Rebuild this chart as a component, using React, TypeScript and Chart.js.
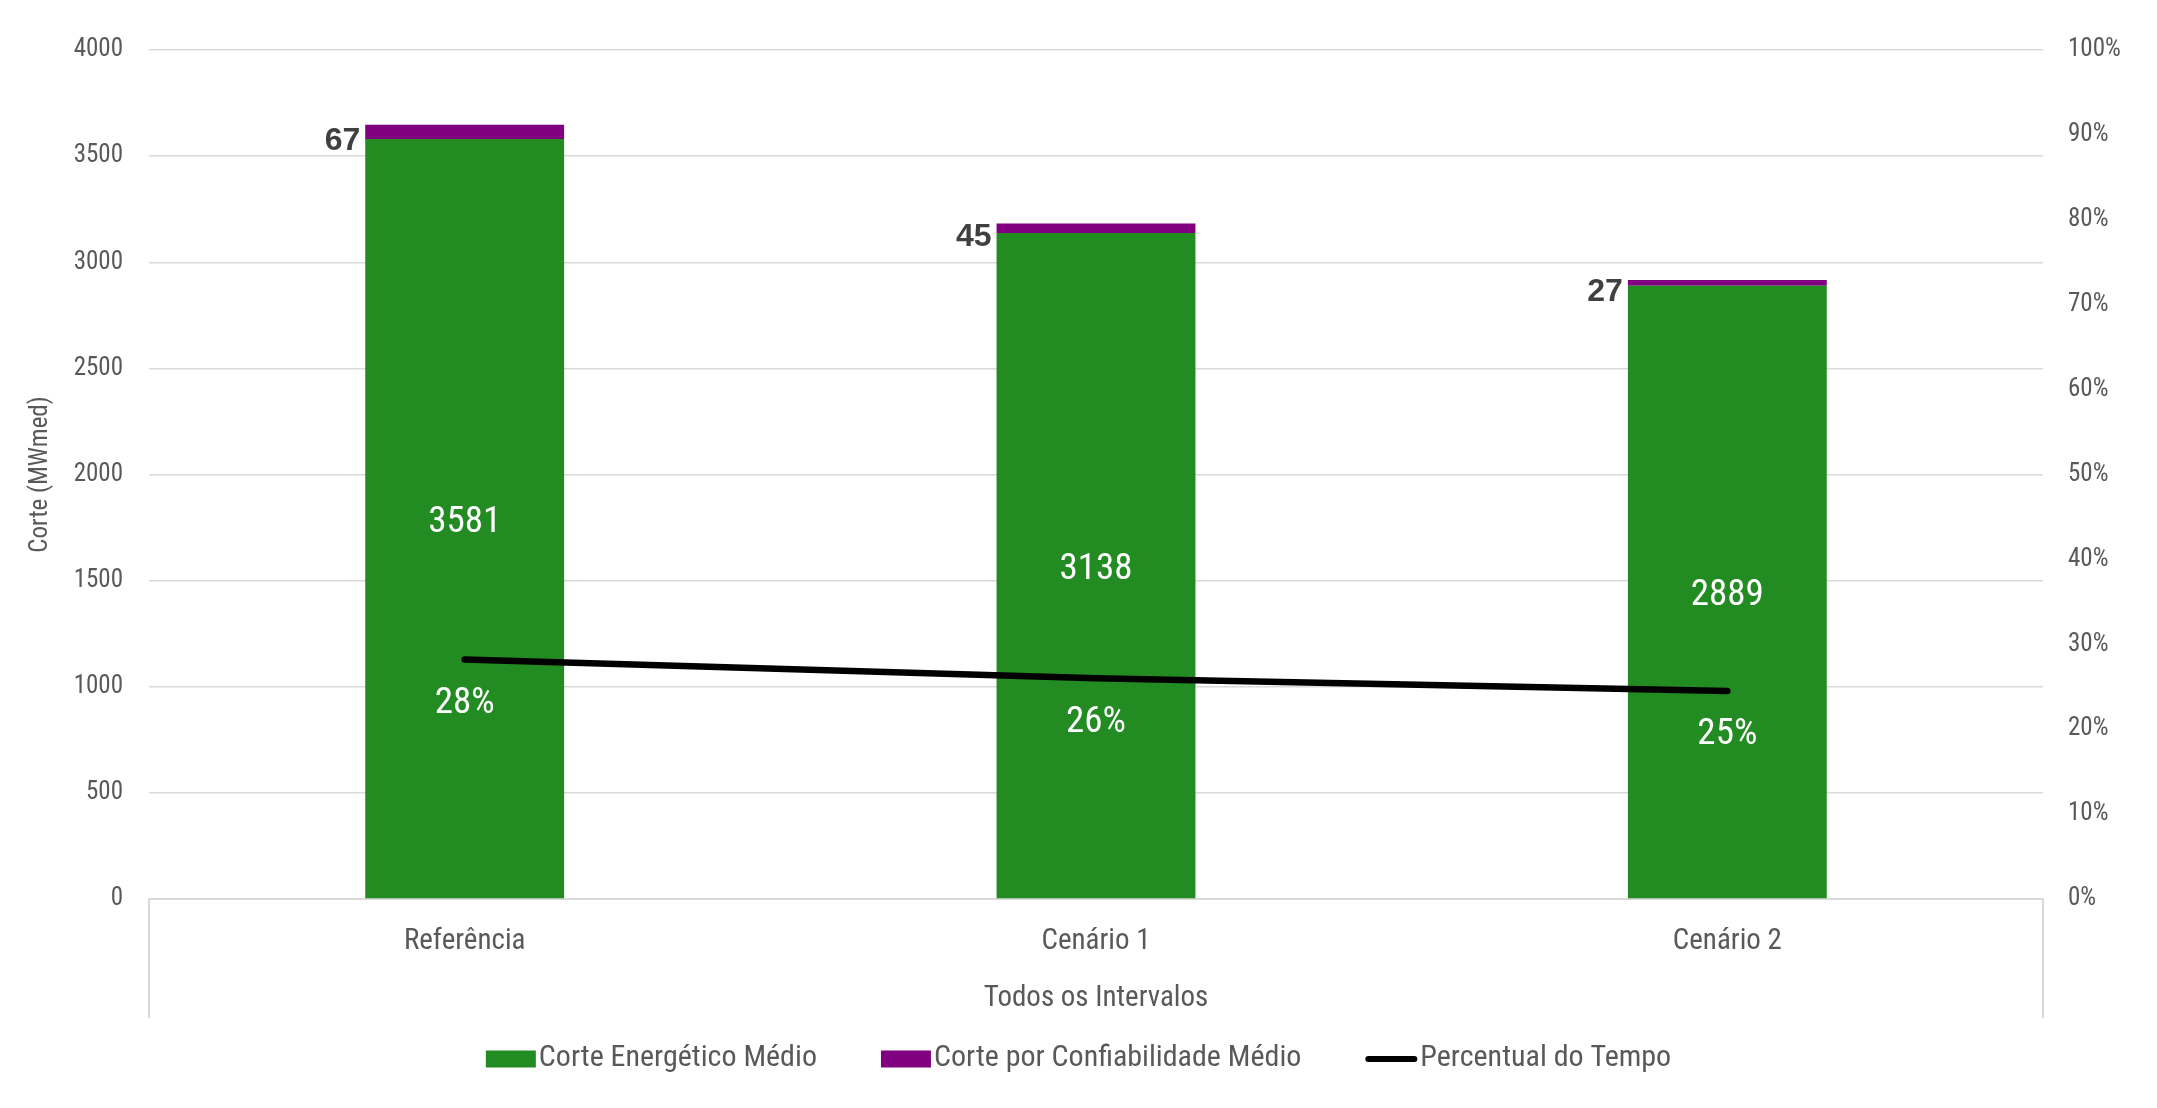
import React, { useEffect, useRef } from "react";
import { Chart, registerables } from "chart.js";

Chart.register(...registerables);

const categories = ["Referência", "Cenário 1", "Cenário 2"];
const corteEnergetico = [3581, 3138, 2889];
const corteConfiabilidade = [67, 45, 27];
const percentualTempo = [28.2, 26.0, 24.5];
const seriesNames = ["Corte Energético Médio", "Corte por Confiabilidade Médio", "Percentual do Tempo"];
const leftAxisTitle = "Corte (MWmed)";
const xAxisTitle = "Todos os Intervalos";

const GREEN = "#228B22";
const PURPLE = "#800080";
const BLACK = "#000000";
const GRID = "#d9d9d9";
const TEXT = "#595959";
const COND = "'Liberation Sans Narrow', 'Roboto Condensed', 'DejaVu Sans Condensed', 'Noto Sans', sans-serif";
const BOLDF = "'Liberation Sans Narrow', 'Liberation Sans', 'Roboto', sans-serif";

const labelsPlugin = {
  id: "customLabels",
  afterDatasetsDraw(chart: any) {
    const ctx = chart.ctx;
    ctx.save();
    ctx.textAlign = "center";
    ctx.textBaseline = "middle";
    const m0 = chart.getDatasetMeta(0);
    m0.data.forEach((bar: any, i: number) => {
      const p = bar.getProps(["x", "y", "base"], true);
      ctx.font = `37px ${COND}`;
      ctx.fillStyle = "#ffffff";
      ctx.fillText(String(corteEnergetico[i]), p.x, (p.y + p.base) / 2 + 4);
    });
    const m1 = chart.getDatasetMeta(1);
    m1.data.forEach((bar: any, i: number) => {
      const p = bar.getProps(["x", "y", "base", "width"], true);
      ctx.font = `bold 32px ${BOLDF}`;
      ctx.fillStyle = "#404040";
      ctx.textAlign = "right";
      ctx.fillText(String(corteConfiabilidade[i]), p.x - p.width / 2 - 5, (p.y + p.base) / 2 + 9);
    });
    const m2 = chart.getDatasetMeta(2);
    ctx.textAlign = "center";
    m2.data.forEach((pt: any, i: number) => {
      const p = pt.getProps(["x", "y"], true);
      ctx.font = `37px ${COND}`;
      ctx.fillStyle = "#ffffff";
      ctx.fillText(Math.round(percentualTempo[i]) + "%", p.x, p.y + 44);
    });
    ctx.restore();
  },
  afterDraw(chart: any) {
    const ctx = chart.ctx;
    const xs = chart.scales.x;
    ctx.save();
    ctx.strokeStyle = GRID;
    ctx.lineWidth = 2;
    ctx.beginPath();
    ctx.moveTo(xs.left, xs.top);
    ctx.lineTo(xs.left, xs.bottom);
    ctx.moveTo(xs.right, xs.top);
    ctx.lineTo(xs.right, xs.bottom);
    ctx.stroke();

    // legend
    ctx.font = `30px ${COND}`;
    ctx.textBaseline = "middle";
    ctx.textAlign = "left";
    const boxW = 50;
    const boxH = 17;
    const lineW = 52;
    const gapText = 3;
    const gapItem = 64;
    const ds = chart.data.datasets;
    const widths = ds.map((d: any, i: number) => (i === 2 ? lineW : boxW) + gapText + ctx.measureText(d.label).width);
    const total = widths.reduce((a: number, b: number) => a + b, 0) + gapItem * (ds.length - 1);
    let x = (chart.width - total) / 2;
    const y = chart.height - 50;
    ds.forEach((d: any, i: number) => {
      if (i === 2) {
        ctx.strokeStyle = d.borderColor;
        ctx.lineWidth = 6;
        ctx.lineCap = "round";
        ctx.beginPath();
        ctx.moveTo(x + 3, y + 1);
        ctx.lineTo(x + lineW - 3, y + 1);
        ctx.stroke();
        x += lineW + gapText;
      } else {
        ctx.fillStyle = d.backgroundColor;
        ctx.fillRect(x, y - boxH / 2 + 1, boxW, boxH);
        x += boxW + gapText;
      }
      ctx.fillStyle = TEXT;
      ctx.fillText(d.label, x, y);
      x += ctx.measureText(d.label).width + gapItem;
    });
    ctx.restore();
  },
};

export default function App() {
  const ref = useRef<HTMLCanvasElement | null>(null);
  useEffect(() => {
    if (!ref.current) return;
    const chart = new Chart(ref.current, {
      type: "bar",
      data: {
        labels: categories,
        datasets: [
          {
            type: "bar",
            label: seriesNames[0],
            data: corteEnergetico,
            backgroundColor: GREEN,
            borderWidth: 0,
            yAxisID: "y",
            stack: "s",
            order: 1,
            barPercentage: 0.315,
            categoryPercentage: 1,
          },
          {
            type: "bar",
            label: seriesNames[1],
            data: corteConfiabilidade,
            backgroundColor: PURPLE,
            borderWidth: 0,
            yAxisID: "y",
            stack: "s",
            order: 1,
            barPercentage: 0.315,
            categoryPercentage: 1,
          },
          {
            type: "line",
            label: seriesNames[2],
            data: percentualTempo,
            borderColor: BLACK,
            backgroundColor: BLACK,
            borderWidth: 6.5,
            borderCapStyle: "round",
            pointRadius: 0,
            yAxisID: "y1",
            order: 0,
          },
        ],
      },
      options: {
        animation: false,
        responsive: true,
        maintainAspectRatio: false,
        layout: { padding: { top: 50, bottom: 90, left: 0, right: 0 } },
        plugins: {
          legend: { display: false },
          tooltip: { enabled: false },
        },
        scales: {
          x: {
            stacked: true,
            grid: { display: false, drawTicks: false },
            border: { display: true, color: GRID, width: 2 },
            ticks: { color: TEXT, font: { family: COND, size: 29 }, padding: 25 },
            title: {
              display: true,
              text: xAxisTitle,
              color: TEXT,
              font: { family: COND, size: 29 },
              padding: { top: 0, bottom: 2 },
            },
            afterFit: (s: any) => {
              s.height = 119;
            },
          },
          y: {
            stacked: true,
            position: "left",
            min: 0,
            max: 4000,
            ticks: {
              stepSize: 500,
              color: TEXT,
              font: { family: COND, size: 25 },
              padding: 26,
              callback: (v: any) => String(v),
            },
            grid: { color: GRID, lineWidth: 1.5, drawTicks: false },
            border: { display: false },
            title: {
              display: true,
              text: leftAxisTitle,
              color: TEXT,
              font: { family: COND, size: 25 },
              padding: { top: 26, bottom: 0 },
            },
            afterFit: (s: any) => {
              s.width = 149;
            },
          },
          y1: {
            position: "right",
            min: 0,
            max: 100,
            ticks: {
              stepSize: 10,
              color: TEXT,
              font: { family: COND, size: 25 },
              padding: 25,
              callback: (v: any) => v + "%",
            },
            grid: { display: false, drawTicks: false },
            border: { display: false },
            afterFit: (s: any) => {
              s.width = 114;
            },
          },
        },
      },
      plugins: [labelsPlugin],
    });
    return () => chart.destroy();
  }, []);

  return (
    <div style={{ position: "fixed", left: 0, top: 0, width: "2157px", height: "1108px", background: "#ffffff" }}>
      <canvas ref={ref} />
    </div>
  );
}
